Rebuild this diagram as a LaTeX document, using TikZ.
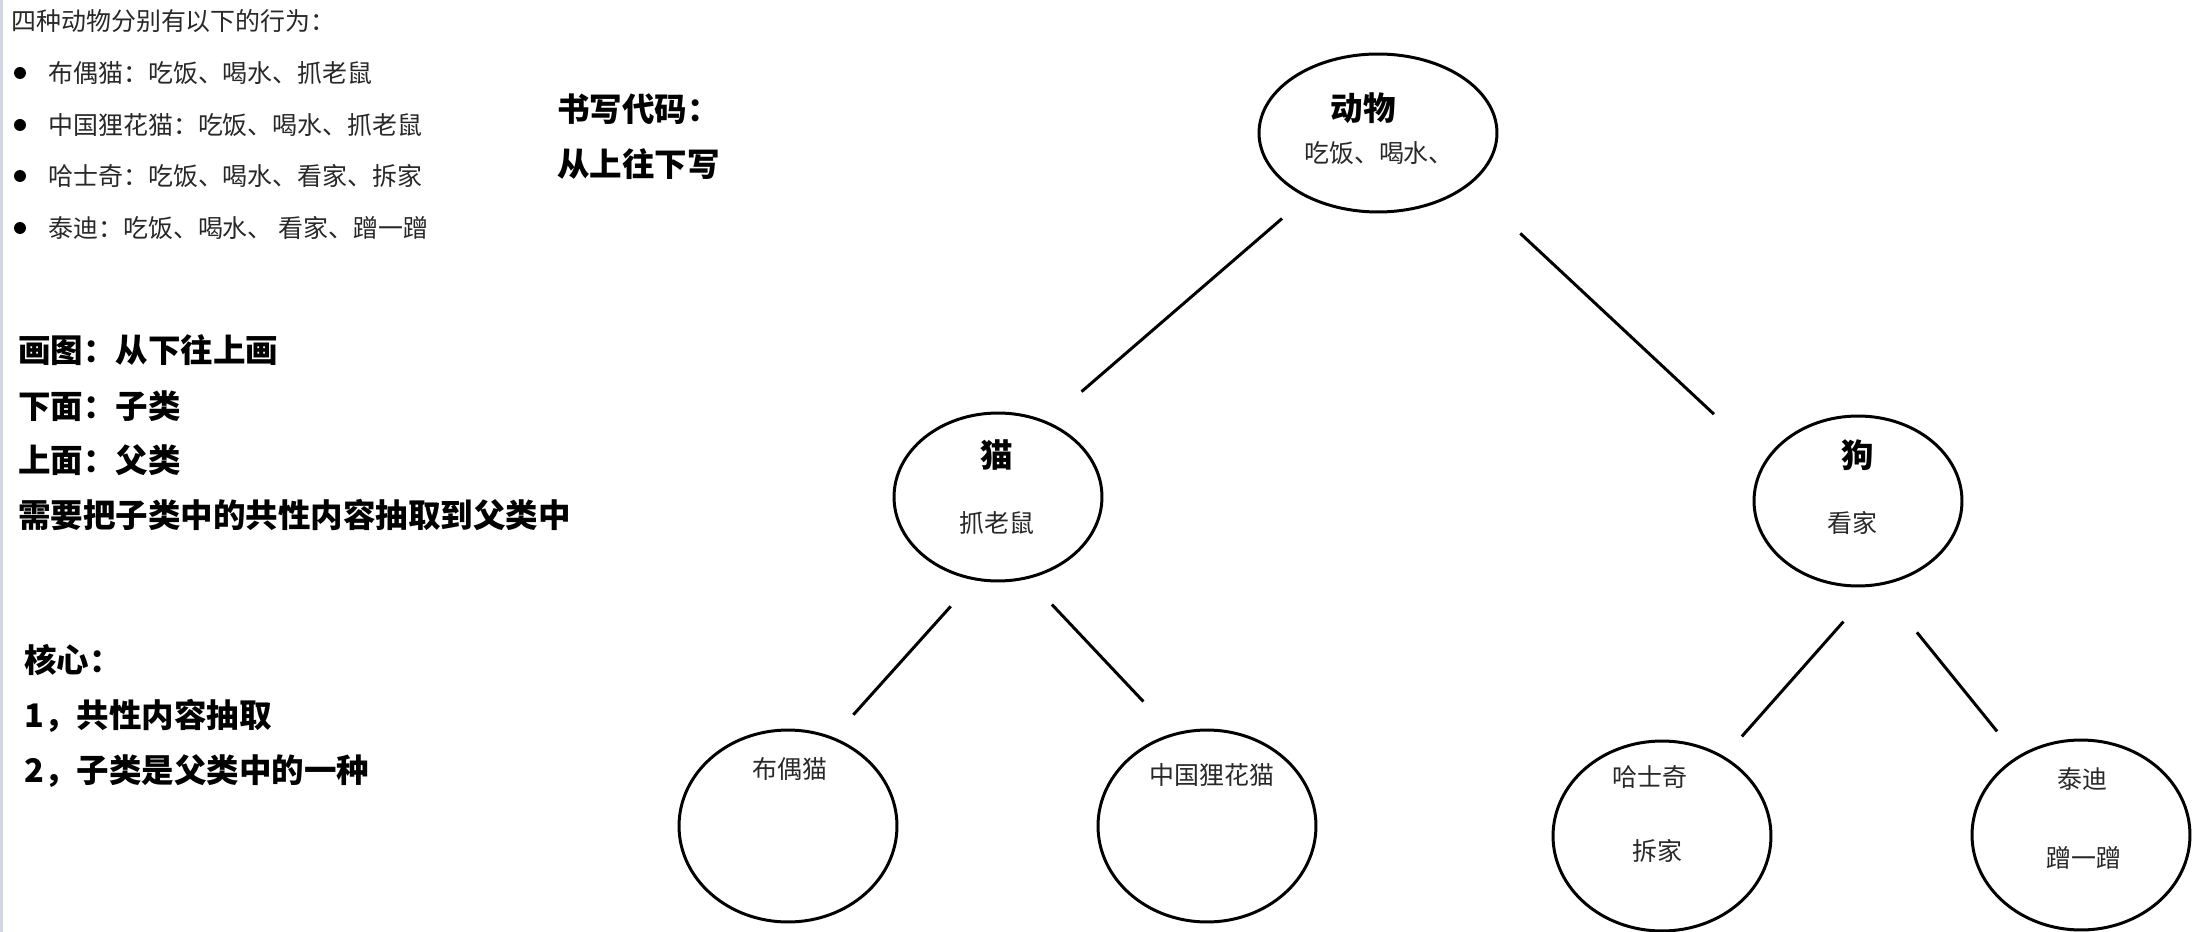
\documentclass[tikz,border=0pt]{standalone}
\usepackage{fontspec}
\setmainfont{Noto Sans CJK SC}
\usepackage{xcolor}
\usetikzlibrary{shapes.geometric}

\definecolor{txtgray}{RGB}{40,40,40}
\definecolor{edgebar}{RGB}{208,212,230}

\begin{document}
\begin{tikzpicture}[
    x=0.02cm,y=-0.02cm,
    cls/.style={draw,ellipse,line width=1.7pt,inner sep=0pt},
    link/.style={line width=1.7pt},
    txt/.style={font=\fontsize{14.2}{17}\selectfont,text=txtgray,inner sep=0pt},
    head/.style={font=\bfseries\fontsize{18.5}{22}\selectfont,inner sep=0pt},
    dot/.style={circle,fill=black,inner sep=0pt,minimum size=0.24cm}
]
\useasboundingbox (0,0) rectangle (2194,932);
\fill[edgebar] (0,0) rectangle (3,932);

% notes on the left
\node[txt,anchor=west] (intro) at (11,21) {四种动物分别有以下的行为：};
\node[dot] (b1) at (20,73) {};
\node[txt,anchor=west] (l1) at (48,73) {布偶猫：吃饭、喝水、抓老鼠};
\node[dot] (b2) at (20,125) {};
\node[txt,anchor=west] (l2) at (48,125) {中国狸花猫：吃饭、喝水、抓老鼠};
\node[dot] (b3) at (20,176) {};
\node[txt,anchor=west] (l3) at (48,176) {哈士奇：吃饭、喝水、看家、拆家};
\node[dot] (b4) at (20,228) {};
\node[txt,anchor=west] (l4) at (48,228) {泰迪：吃饭、喝水、 看家、蹭一蹭};

\node[head,anchor=west] (draw1) at (18,350) {画图：从下往上画};
\node[head,anchor=west] (draw2) at (18,406) {下面：子类};
\node[head,anchor=west] (draw3) at (18,460) {上面：父类};
\node[head,anchor=west] (draw4) at (18,515) {需要把子类中的共性内容抽取到父类中};

\node[head,anchor=west] (core) at (24,660) {核心：};
\node[head,anchor=west] (core1) at (24,716) {1，共性内容抽取};
\node[head,anchor=west] (core2) at (24,771) {2，子类是父类中的一种};

\node[head,anchor=west] (code1) at (557,109) {书写代码：};
\node[head,anchor=west] (code2) at (557,164) {从上往下写};

% class tree
\node[cls,minimum width=4.76cm,minimum height=3.16cm] (animal) at (1378,133) {};
\node[cls,minimum width=4.16cm,minimum height=3.36cm] (cat) at (998,497) {};
\node[cls,minimum width=4.16cm,minimum height=3.40cm] (dog) at (1858,501) {};
\node[cls,minimum width=4.36cm,minimum height=3.84cm] (ragdoll) at (788,826) {};
\node[cls,minimum width=4.36cm,minimum height=3.84cm] (lihua) at (1207,826) {};
\node[cls,minimum width=4.36cm,minimum height=3.80cm] (husky) at (1662,836) {};
\node[cls,minimum width=4.36cm,minimum height=3.80cm] (teddy) at (2081,835) {};

\node[head] (animalname) at (1363,108) {动物};
\node[txt] (animalact) at (1379,153) {吃饭、喝水、};
\node[head] (catname) at (997,455) {猫};
\node[txt] (catact) at (997,523) {抓老鼠};
\node[head] (dogname) at (1858,455) {狗};
\node[txt] (dogact) at (1852,523) {看家};
\node[txt] (ragdollname) at (790,769) {布偶猫};
\node[txt] (lihuaname) at (1212,775) {中国狸花猫};
\node[txt] (huskyname) at (1650,777) {哈士奇};
\node[txt] (huskyact) at (1657,851) {拆家};
\node[txt] (teddyname) at (2082,779) {泰迪};
\node[txt] (teddyact) at (2084,858) {蹭一蹭};

\draw[link,shorten <=0.64cm,shorten >=0.91cm] (animal.222) -- (cat.57);
\draw[link,shorten <=1.4cm,shorten >=1.38cm] (animal.-30) -- (dog.157);
\draw[link,shorten <=0.7cm,shorten >=0.6cm] (cat.254) -- (ragdoll.63);
\draw[link,shorten <=0.7cm,shorten >=0.87cm] (cat.290) -- (lihua.110);
\draw[link,shorten <=0.94cm,shorten >=0.53cm] (dog.281) -- (husky.52);
\draw[link,shorten <=1.2cm,shorten >=0.64cm] (dog.284) -- (teddy.129);
\end{tikzpicture}
\end{document}
